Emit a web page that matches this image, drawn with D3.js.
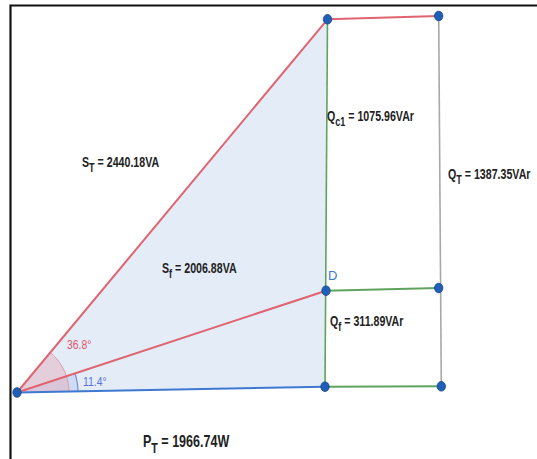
<!DOCTYPE html>
<html><head><meta charset="utf-8">
<script src="https://cdn.jsdelivr.net/npm/d3@7"></script>
<style>
html,body{margin:0;padding:0;background:#fff;}
svg{display:block;}
.lbl{font-family:"Liberation Sans","Arial",sans-serif;font-weight:bold;fill:#222;}
</style></head>
<body>
<svg id="c" width="537" height="459"></svg>
<script>
// ---- data (geometric coordinates of the diagram's points) ----
const pointNames = ["O", "B", "D", "A", "TR", "RM", "RB"];
const pointX = [0, 3.08, 3.09, 3.105, 4.217, 4.217, 4.243];
const pointY = [0, 0.058, 1.018, 3.732, 3.765, 1.045, 0.062];
const quantityNames = ["S_T", "S_f", "Q_c1", "Q_T", "Q_f", "P_T"];
const quantityValues = [2440.18, 2006.88, 1075.96, 1387.35, 311.89, 1966.74];
const quantityUnits = ["VA", "VA", "VAr", "VAr", "VAr", "W"];
const angleValues = [36.8, 11.4];

const svg = d3.select("#c");
const x = d3.scaleLinear().domain([0, 1]).range([17, 117]);
const y = d3.scaleLinear().domain([0, 1]).range([392.5, 292.5]);
const P = {};
pointNames.forEach((n, i) => P[n] = [x(pointX[i]), y(pointY[i])]);

const RED = "#e06470", BLUE = "#3f78d0", GREEN = "#5fa35f", GREY = "#a8a8a8";

// frame
svg.append("path").attr("d", "M10.5,459 V5.5 H537").attr("fill", "none").attr("stroke", "#111").attr("stroke-width", 2.2);

// triangle fill
svg.append("path").attr("d", d3.line()([P.O, P.A, P.B]) + "Z").attr("fill", "#e3ecf7");

// angle sectors
function ang(p) { return Math.atan2(-(p[1] - P.O[1]), p[0] - P.O[0]); }
function sector(a0, a1, r) {
  const pts = [P.O];
  const n = 30;
  for (let k = 0; k <= n; k++) {
    const a = a0 + (a1 - a0) * k / n;
    pts.push([P.O[0] + r * Math.cos(a), P.O[1] - r * Math.sin(a)]);
  }
  return pts;
}
function arcOnly(a0, a1, r) { return sector(a0, a1, r).slice(1); }
const aB = ang(P.B), aD = ang(P.D), aA = ang(P.A);
svg.append("path").attr("d", d3.line()(sector(aB, aD, 61)) + "Z").attr("fill", "#c9d6f2").attr("opacity", 0.8);
svg.append("path").attr("d", d3.line()(arcOnly(aB, aD, 61))).attr("fill", "none").attr("stroke", "#6f8fe0").attr("stroke-width", 1.2);
svg.append("path").attr("d", d3.line()(sector(aB, aA, 52)) + "Z").attr("fill", "#e7aab8").attr("opacity", 0.45);
svg.append("path").attr("d", d3.line()(arcOnly(aB, aA, 52))).attr("fill", "none").attr("stroke", "#d99aa6").attr("stroke-width", 1);

// segments
const segs = [
  ["A", "B", GREEN, 1.6], ["D", "RM", GREEN, 2], ["B", "RB", GREEN, 2],
  ["TR", "RB", GREY, 1.6],
  ["O", "B", BLUE, 2], ["O", "A", RED, 2], ["O", "D", RED, 2], ["A", "TR", RED, 2]
];
svg.selectAll(".seg").data(segs).join("line")
  .attr("x1", d => P[d[0]][0]).attr("y1", d => P[d[0]][1])
  .attr("x2", d => P[d[1]][0]).attr("y2", d => P[d[1]][1])
  .attr("stroke", d => d[2]).attr("stroke-width", d => d[3]);

// points
svg.selectAll(".pt").data(pointNames).join("ellipse")
  .attr("cx", d => P[d][0]).attr("cy", d => P[d][1])
  .attr("rx", 4.2).attr("ry", 4.8)
  .attr("fill", "#1f5fb8").attr("stroke", "#17458a").attr("stroke-width", 0.8);

// labels (condensed horizontally, like the narrow face of the original)
function qLabel(i, px, py, size, sx) {
  const [base, sub] = quantityNames[i].split("_");
  const t = svg.append("text").attr("class", "lbl")
    .attr("transform", `translate(${px},${py}) scale(${sx},1)`).attr("font-size", size);
  t.append("tspan").text(base);
  t.append("tspan").attr("dy", size * 0.35).attr("font-size", size * 0.85).text(sub);
  t.append("tspan").attr("dy", -size * 0.35).text(" = " + quantityValues[i].toFixed(2) + quantityUnits[i]);
}
qLabel(0, 82, 167, 14, 0.76);
qLabel(1, 162, 273, 14, 0.76);
qLabel(2, 327, 121, 14, 0.76);
qLabel(3, 448, 179, 14, 0.76);
qLabel(4, 330, 326, 14, 0.76);
qLabel(5, 143, 447, 16.5, 0.76);

svg.append("text").attr("x", 328).attr("y", 280).attr("fill", BLUE)
  .attr("font-family", "Liberation Sans, sans-serif").attr("font-size", 13).text("D");
svg.append("text").attr("transform", "translate(67,349) scale(0.8,1)").attr("fill", "#e0566a")
  .attr("font-family", "Liberation Sans, sans-serif").attr("font-size", 13).text(angleValues[0] + "°");
svg.append("text").attr("transform", "translate(83,386) scale(0.8,1)").attr("fill", "#5a6fe0")
  .attr("font-family", "Liberation Sans, sans-serif").attr("font-size", 13).text(angleValues[1] + "°");
</script>
</body></html>
